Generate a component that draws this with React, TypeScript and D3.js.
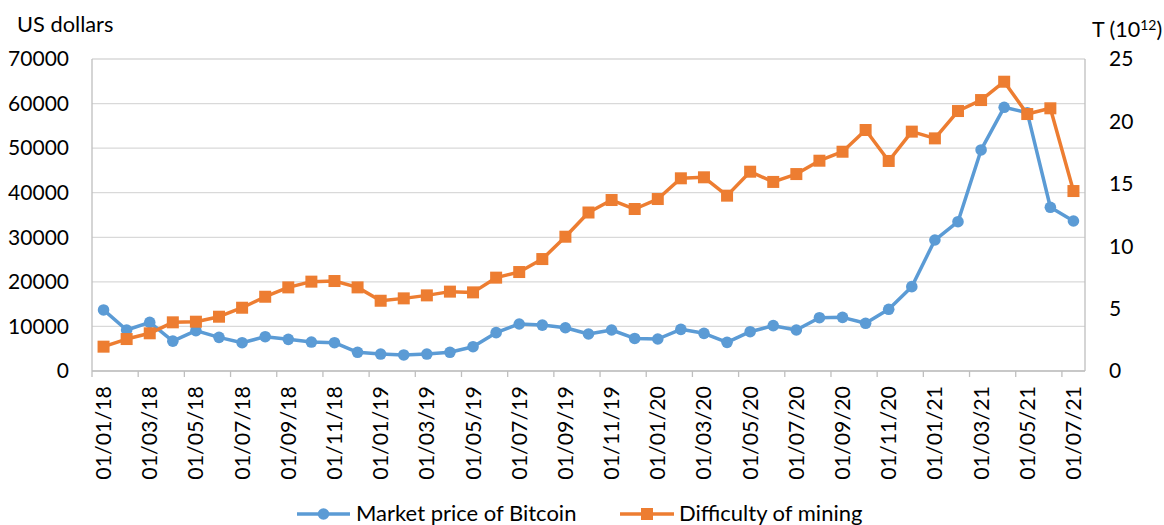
import React from "react";
import * as d3 from "d3";

const months: string[] = [
  "01/01/18","01/02/18","01/03/18","01/04/18","01/05/18","01/06/18","01/07/18","01/08/18","01/09/18","01/10/18","01/11/18","01/12/18",
  "01/01/19","01/02/19","01/03/19","01/04/19","01/05/19","01/06/19","01/07/19","01/08/19","01/09/19","01/10/19","01/11/19","01/12/19",
  "01/01/20","01/02/20","01/03/20","01/04/20","01/05/20","01/06/20","01/07/20","01/08/20","01/09/20","01/10/20","01/11/20","01/12/20",
  "01/01/21","01/02/21","01/03/21","01/04/21","01/05/21","01/06/21","01/07/21",
];

const price: number[] = [
  13700, 9200, 10900, 6700, 9050, 7550, 6350, 7700, 7100, 6500, 6350, 4200,
  3800, 3600, 3800, 4200, 5450, 8600, 10550, 10300, 9700, 8300, 9200, 7300,
  7180, 9350, 8450, 6430, 8820, 10170, 9200, 11960, 12040, 10700, 13840, 18920,
  29390, 33500, 49600, 59160, 57950, 36730, 33650,
];

const difficulty: number[] = [
  1.95, 2.56, 3.02, 3.9, 3.95, 4.35, 5.07, 5.95, 6.7, 7.16, 7.21, 6.7,
  5.63, 5.82, 6.06, 6.36, 6.3, 7.48, 7.93, 8.97, 10.76, 12.7, 13.7, 12.98,
  13.78, 15.44, 15.52, 14.05, 15.97, 15.15, 15.78, 16.85, 17.57, 19.31, 16.83, 19.18,
  18.64, 20.83, 21.71, 23.18, 20.59, 21.05, 14.42,
];

const leftTicks = [0, 10000, 20000, 30000, 40000, 50000, 60000, 70000];
const rightTicks = [0, 5, 10, 15, 20, 25];

const seriesNames = ["Market price of Bitcoin", "Difficulty of mining"];

const W = 1164, H = 525;
const L = 92, R = 1085, T = 59, B = 371;
const BLUE = "#5B9BD5", ORANGE = "#ED7D31";
const FONT = "Lato, 'Open Sans', sans-serif";

export default function App() {
  const x = d3.scalePoint<string>().domain(months).range([L, R]).padding(0.5);
  const step = x.step();
  const yL = d3.scaleLinear().domain([0, 70000]).range([B, T]);
  const yR = d3.scaleLinear().domain([0, 25]).range([B, T]);

  const linePrice = d3.line<number>().x((_, i) => x(months[i])!).y((d) => yL(d));
  const lineDiff = d3.line<number>().x((_, i) => x(months[i])!).y((d) => yR(d));

  const tickIdx = months.map((_, i) => i).filter((i) => i % 2 === 0);

  return (
    <svg width={W} height={H} style={{ position: "absolute", left: 0, top: 0, background: "#fff" }} fontFamily={FONT}>
      <rect width={W} height={H} fill="#fff" />
      {leftTicks.map((t) => (
        <line key={t} x1={L} x2={R} y1={yL(t)} y2={yL(t)} stroke="#D9D9D9" strokeWidth={1.3} />
      ))}
      <line x1={L} x2={L} y1={T} y2={B} stroke="#BFBFBF" strokeWidth={1.3} />
      <line x1={R} x2={R} y1={T} y2={B} stroke="#BFBFBF" strokeWidth={1.3} />
      <line x1={L} x2={R} y1={B} y2={B} stroke="#BFBFBF" strokeWidth={1.3} />
      {tickIdx.map((i) => (
        <line key={i} x1={L + i * step} x2={L + i * step} y1={B} y2={B + 6} stroke="#BFBFBF" strokeWidth={1.3} />
      ))}
      {leftTicks.map((t) => (
        <text key={t} x={69} y={yL(t)} dy="0.35em" textAnchor="end" fontSize={21} fill="#000">{t}</text>
      ))}
      {rightTicks.map((t) => (
        <text key={t} x={1109} y={yR(t)} dy="0.35em" textAnchor="start" fontSize={21} fill="#000">{t}</text>
      ))}
      <text x={17} y={32} fontSize={21.8} fill="#000">US dollars</text>
      <text x={1092} y={37} fontSize={21.5} fill="#000">
        T (10<tspan dy={-7} fontSize={14}>12</tspan><tspan dy={7}>)</tspan>
      </text>
      {tickIdx.map((i) => (
        <text key={i} transform={`translate(${x(months[i])! + 7.5},386) rotate(-90)`} textAnchor="end" fontSize={21.4} fill="#000">
          {months[i]}
        </text>
      ))}
      <path d={linePrice(price)!} fill="none" stroke={BLUE} strokeWidth={3.5} strokeLinejoin="round" />
      {price.map((d, i) => (
        <circle key={i} cx={x(months[i])} cy={yL(d)} r={5.8} fill={BLUE} />
      ))}
      <path d={lineDiff(difficulty)!} fill="none" stroke={ORANGE} strokeWidth={3.5} strokeLinejoin="round" />
      {difficulty.map((d, i) => (
        <rect key={i} x={x(months[i])! - 6} y={yR(d) - 6} width={12} height={12} fill={ORANGE} />
      ))}
      <line x1={297} x2={350} y1={514} y2={514} stroke={BLUE} strokeWidth={3.5} />
      <circle cx={323.5} cy={514} r={5.8} fill={BLUE} />
      <text x={356} y={521} fontSize={22} fill="#000">{seriesNames[0]}</text>
      <line x1={620} x2={674} y1={514} y2={514} stroke={ORANGE} strokeWidth={3.5} />
      <rect x={641} y={508} width={12} height={12} fill={ORANGE} />
      <text x={679} y={521} fontSize={22} fill="#000">{seriesNames[1]}</text>
    </svg>
  );
}
